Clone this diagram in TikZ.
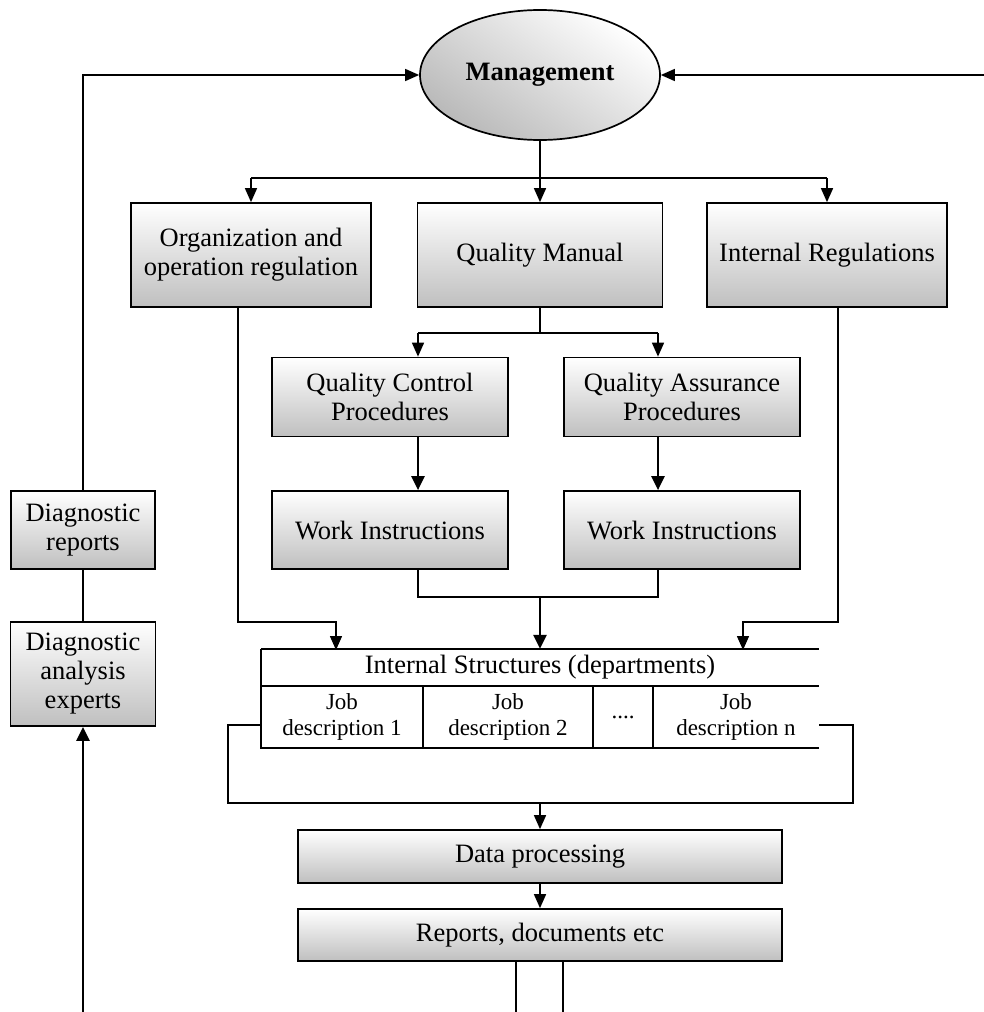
\documentclass[tikz,border=0pt]{standalone}
\usepackage{fontspec}
\setmainfont{Liberation Serif}
\usetikzlibrary{arrows.meta,shapes.geometric,calc}
\begin{document}
\begin{tikzpicture}[x=1pt,y=-1pt,
  box/.style={draw, line width=1.7pt, shade, top color=white, bottom color=gray!50, align=center, inner sep=0pt, font=\fontsize{26.5}{29}\selectfont},
  cell/.style={inner sep=0pt, align=center, minimum height=62pt, font=\fontsize{23}{26}\selectfont},
  conn/.style={line width=1.5pt},
  arr/.style={line width=1.5pt, -{Triangle[length=14pt,width=12pt]}},
  tarr/.style={line width=2.5pt, -{Triangle[length=14pt,width=13pt]}},
  ]
\useasboundingbox (0,0) rectangle (984,1012);
% nodes
\node[ellipse, draw, line width=1.7pt, shade, top color=white, bottom color=gray!55, shading angle=-35,
  minimum width=240pt, minimum height=130pt, inner sep=0pt, font=\bfseries\fontsize{26.5}{29}\selectfont] (mgmt) at (540,75) {Management};
\node[box, minimum width=240pt, minimum height=104pt] (org) at (251,255) {Organization and\\operation regulation};
\node[box, minimum width=245pt, minimum height=104pt] (qm) at (540,255) {Quality Manual};
\node[box, minimum width=240pt, minimum height=104pt] (ir) at (827,255) {Internal Regulations};
\node[box, minimum width=236pt, minimum height=79pt] (qc) at (390,397) {Quality Control\\Procedures};
\node[box, minimum width=236pt, minimum height=79pt] (qa) at (682,397) {Quality Assurance\\Procedures};
\node[box, minimum width=236pt, minimum height=78pt] (wi1) at (390,530) {Work Instructions};
\node[box, minimum width=236pt, minimum height=78pt] (wi2) at (682,530) {Work Instructions};
\node[inner sep=0pt, minimum width=558pt, minimum height=37pt, font=\fontsize{26.5}{29}\selectfont] (ist) at (540,667.5) {Internal Structures (departments)};
\node[cell, minimum width=162pt] (jd1) at (342,717) {Job\\description 1};
\node[cell, minimum width=170pt] (jd2) at (508,717) {Job\\description 2};
\node[cell, minimum width=60pt] (dots) at (623,717) {....};
\node[cell, minimum width=166pt] (jdn) at (736,717) {Job\\description n};
\node[box, minimum width=484pt, minimum height=53pt] (dp) at (540,856.5) {Data processing};
\node[box, minimum width=484pt, minimum height=52pt] (rep) at (540,935) {Reports, documents etc};
\node[box, minimum width=144pt, minimum height=78pt] (dr) at (83,530) {Diagnostic\\reports};
\node[box, minimum width=145pt, minimum height=104pt] (da) at (83,674) {Diagnostic\\analysis\\experts};
% table lines
\draw[conn] (ist.north west) -- (ist.north east);
\draw[conn] (ist.south west) -- (ist.south east);
\draw[conn] (jdn.south east) -- (jd1.south west) -- (ist.north west);
\draw[conn] (jd1.north east) -- (jd1.south east);
\draw[conn] (jd2.north east) -- (jd2.south east);
\draw[conn] (dots.north east) -- (dots.south east);
% coordinates
\coordinate (rt) at (984,75);
\coordinate (b1) at (540,178);
\coordinate (b2) at (540,333);
\coordinate (b2l) at (418,333);
\coordinate (b2r) at (658,333);
\coordinate (b3l) at (418,597);
\coordinate (b3c) at (540,597);
\coordinate (b3r) at (658,597);
\coordinate (ol) at (238,622);
\coordinate (ot) at (336,650);
\coordinate (irl) at (838,622);
\coordinate (irt) at (743,650);
\coordinate (ll) at (228,725);
\coordinate (lr) at (853,725);
\coordinate (lb) at (228,803);
\coordinate (rb) at (853,803);
\coordinate (dpin) at (540,803);
\coordinate (o1) at (516,1012);
\coordinate (o2) at (563,1012);
\coordinate (bl) at (83,1012);
% connectors
\draw[arr] (dr.north) |- (mgmt.west);
\draw[arr] (rt) -- (mgmt.east);
\draw[arr] (mgmt.south) -- (qm.north);
\draw[conn] (org.north |- b1) -- (ir.north |- b1);
\draw[arr] (org.north |- b1) -- (org.north);
\draw[arr] (ir.north |- b1) -- (ir.north);
\draw[conn] (qm.south) -- (b2);
\draw[conn] (b2l) -- (b2r);
\draw[arr] (b2l) -- (b2l |- qc.north);
\draw[arr] (b2r) -- (b2r |- qa.north);
\draw[tarr] (b2l |- qc.south) -- (b2l |- wi1.north);
\draw[tarr] (b2r |- qa.south) -- (b2r |- wi2.north);
\draw[conn] (b2l |- wi1.south) -- (b3l) -- (b3r) -- (b2r |- wi2.south);
\draw[tarr] (b3c) -- (b3c |- ist.north);
\draw[arr] (ol |- org.south) -- (ol) -| (ot);
\draw[arr] (irl |- ir.south) -- (irl) -| (irt);
\draw[conn] (jd1.west |- ll) -- (ll) -- (lb) -- (rb) -- (lr) -- (jdn.east |- lr);
\draw[arr] (dpin) -- (dp.north);
\draw[arr] (dp.south) -- (rep.north);
\draw[conn] (o1 |- rep.south) -- (o1);
\draw[conn] (o2 |- rep.south) -- (o2);
\draw[conn] (dr.south) -- (da.north);
\draw[tarr] (bl) -- (da.south);
\end{tikzpicture}
\end{document}
